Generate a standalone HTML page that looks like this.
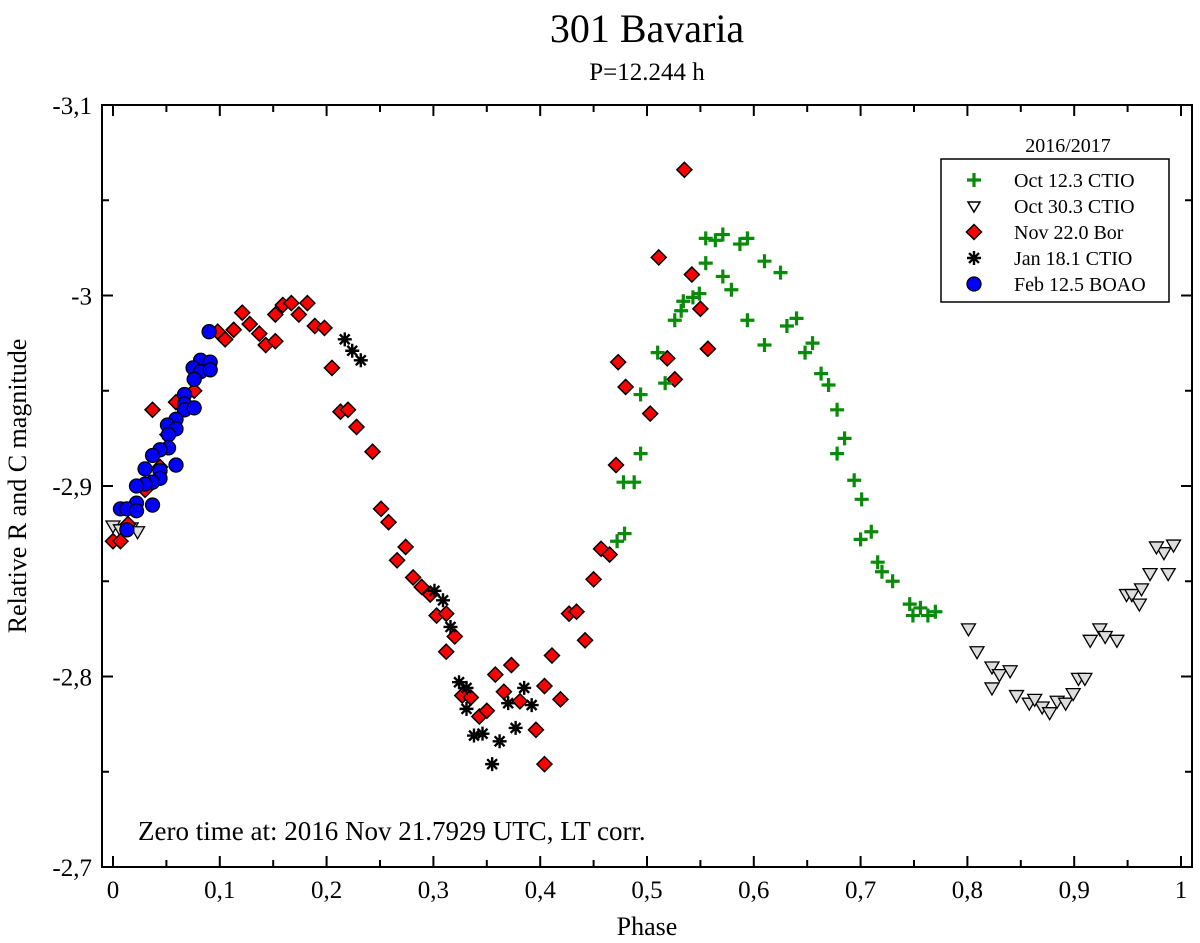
<!DOCTYPE html>
<html><head><meta charset="utf-8"><style>
html,body{margin:0;padding:0;background:#fff;}
svg{display:block;font-family:"Liberation Serif",serif;}
</style></head><body>
<svg id="chart" width="1200" height="943" viewBox="0 0 1200 943" xmlns="http://www.w3.org/2000/svg">
<text x="647" y="42" font-size="40" text-anchor="middle">301 Bavaria</text>
<text x="647" y="80" font-size="25" text-anchor="middle">P=12.244 h</text>
<rect x="102" y="105" width="1090" height="762" fill="none" stroke="#000" stroke-width="2"/>
<g id="axes"></g>
<g id="marks"></g>
<text x="647" y="935" font-size="26" text-anchor="middle">Phase</text>
<text x="26" y="486" font-size="26" text-anchor="middle" transform="rotate(-90 26 486)">Relative R and C magnitude</text>
<text x="138" y="840" font-size="27">Zero time at: 2016 Nov 21.7929 UTC, LT corr.</text>
<text x="1068" y="152" font-size="20" text-anchor="middle">2016/2017</text>
<g>
<rect x="941" y="159" width="228" height="143" fill="#fff" stroke="#000" stroke-width="1.5"/>
<g id="legend-entries"></g>
</g>
</svg>
<script>
const xTicks=[0,0.1,0.2,0.3,0.4,0.5,0.6,0.7,0.8,0.9,1];
const xTickLabels=["0","0,1","0,2","0,3","0,4","0,5","0,6","0,7","0,8","0,9","1"];
const yTicks=[-3.1,-3.0,-2.9,-2.8,-2.7];
const yTickLabels=["-3,1","-3","-2,9","-2,8","-2,7"];
const seriesNames=["Oct 12.3 CTIO","Oct 30.3 CTIO","Nov 22.0 Bor","Jan 18.1 CTIO","Feb 12.5 BOAO"];
const octPhase=[0.555,0.564,0.571,0.587,0.594,0.555,0.571,0.579,0.610,0.625,0.594,0.610,0.631,0.640,0.648,0.655,0.663,0.670,0.678,0.685,0.678,0.694,0.701,0.700,0.710,0.716,0.720,0.730,0.746,0.756,0.749,0.763,0.770,0.526,0.532,0.534,0.543,0.549,0.510,0.517,0.494,0.494,0.478,0.488,0.479,0.472];
const octMag=[-3.030,-3.029,-3.032,-3.027,-3.030,-3.017,-3.010,-3.003,-3.018,-3.012,-2.987,-2.974,-2.984,-2.988,-2.970,-2.975,-2.959,-2.953,-2.940,-2.925,-2.917,-2.903,-2.893,-2.872,-2.876,-2.860,-2.855,-2.850,-2.838,-2.836,-2.832,-2.832,-2.834,-2.987,-2.992,-2.997,-2.999,-3.001,-2.970,-2.954,-2.948,-2.917,-2.902,-2.902,-2.875,-2.871];
const oct30Phase=[0.000,0.007,0.017,0.023,0.801,0.809,0.823,0.830,0.823,0.840,0.846,0.858,0.870,0.863,0.877,0.884,0.892,0.899,0.904,0.910,0.915,0.924,0.929,0.940,0.949,0.954,0.961,0.963,0.971,0.984,0.988,0.977,0.993];
const oct30Mag=[-2.879,-2.877,-2.878,-2.876,-2.825,-2.813,-2.805,-2.801,-2.794,-2.803,-2.790,-2.786,-2.784,-2.788,-2.781,-2.787,-2.786,-2.791,-2.799,-2.799,-2.819,-2.825,-2.821,-2.819,-2.843,-2.843,-2.838,-2.846,-2.854,-2.865,-2.854,-2.868,-2.869];
const novPhase=[0.000,0.007,0.014,0.037,0.059,0.076,0.051,0.044,0.030,0.098,0.105,0.113,0.121,0.128,0.137,0.143,0.152,0.152,0.159,0.167,0.174,0.182,0.189,0.198,0.205,0.213,0.220,0.228,0.243,0.251,0.258,0.274,0.266,0.281,0.289,0.297,0.303,0.312,0.320,0.312,0.358,0.373,0.366,0.381,0.404,0.419,0.327,0.335,0.343,0.350,0.396,0.404,0.411,0.442,0.427,0.434,0.450,0.457,0.465,0.471,0.535,0.511,0.542,0.550,0.557,0.473,0.519,0.526,0.480,0.503];
const novMag=[-2.871,-2.871,-2.880,-2.940,-2.944,-2.950,-2.927,-2.910,-2.898,-2.981,-2.977,-2.982,-2.991,-2.985,-2.980,-2.974,-2.976,-2.990,-2.995,-2.996,-2.990,-2.996,-2.984,-2.983,-2.962,-2.939,-2.940,-2.931,-2.918,-2.888,-2.881,-2.868,-2.861,-2.852,-2.847,-2.843,-2.832,-2.833,-2.821,-2.813,-2.801,-2.806,-2.792,-2.787,-2.795,-2.788,-2.790,-2.789,-2.779,-2.782,-2.772,-2.754,-2.811,-2.819,-2.833,-2.834,-2.851,-2.867,-2.864,-2.911,-3.066,-3.020,-3.011,-2.993,-2.972,-2.965,-2.967,-2.956,-2.952,-2.938];
const janPhase=[0.217,0.224,0.232,0.301,0.309,0.316,0.324,0.331,0.331,0.338,0.346,0.362,0.355,0.370,0.385,0.392,0.377];
const janMag=[-2.977,-2.971,-2.966,-2.845,-2.840,-2.826,-2.797,-2.794,-2.783,-2.769,-2.770,-2.766,-2.754,-2.786,-2.794,-2.785,-2.773];
const febPhase=[0.090,0.082,0.091,0.075,0.082,0.091,0.076,0.067,0.067,0.067,0.076,0.059,0.051,0.059,0.052,0.052,0.044,0.037,0.059,0.030,0.044,0.044,0.037,0.030,0.022,0.022,0.037,0.007,0.013,0.022,0.013];
const febMag=[-2.981,-2.966,-2.965,-2.962,-2.960,-2.961,-2.956,-2.948,-2.943,-2.940,-2.941,-2.935,-2.932,-2.930,-2.927,-2.920,-2.919,-2.916,-2.911,-2.909,-2.908,-2.904,-2.902,-2.901,-2.900,-2.891,-2.890,-2.888,-2.888,-2.887,-2.877];

const NS="http://www.w3.org/2000/svg";
const X0=102,X1=1192,Y0=105,Y1=867;
function sx(p){return 113+p*1068;}
function sy(m){return Y0+(m+3.1)/0.4*(Y1-Y0);}
function mk(tag,attrs,parent){const e=document.createElementNS(NS,tag);for(const k in attrs)e.setAttribute(k,attrs[k]);parent.appendChild(e);return e;}
const axes=document.getElementById('axes');
const marks=document.getElementById('marks');
// x ticks
for(let i=0;i<xTicks.length;i++){
  const x=sx(xTicks[i]);
  const t=mk('path',{d:`M${x},${Y1}V${Y1-11}M${x},${Y0}V${Y0+11}`,stroke:'#000','stroke-width':2},axes);
  
  
  const l=mk('text',{x:x,y:898,'font-size':25,'text-anchor':'middle'},axes);
  l.textContent=xTickLabels[i];
  
  
  if(i<xTicks.length-1){const xm=sx(xTicks[i]+0.05);
    const m=mk('path',{d:`M${xm},${Y1}V${Y1-7}M${xm},${Y0}V${Y0+7}`,stroke:'#000','stroke-width':2},axes);
    
    }
}
for(let i=0;i<yTicks.length;i++){
  const y=sy(yTicks[i]);
  const t=mk('path',{d:`M${X0},${y}H${X0+11}M${X1},${y}H${X1-11}`,stroke:'#000','stroke-width':2},axes);
  
  
  const l=mk('text',{x:92,y:y+9,'font-size':25,'text-anchor':'end'},axes);
  l.textContent=yTickLabels[i];
  
  
  if(i<yTicks.length-1){const ym=sy(yTicks[i]+0.05);
    const m=mk('path',{d:`M${X0},${ym}H${X0+7}M${X1},${ym}H${X1-7}`,stroke:'#000','stroke-width':2},axes);
    
    }
}
function plus(g,x,y){return mk('path',{d:`M${x-7},${y}H${x+7}M${x},${y-7}V${y+7}`,stroke:'#0a8a0a','stroke-width':3.2},g);}
function tri(g,x,y){return mk('path',{d:`M${x-7},${y-5}L${x+7},${y-5}L${x},${y+7}Z`,fill:'#ddd',stroke:'#000','stroke-width':1.3},g);}
function dia(g,x,y){return mk('path',{d:`M${x},${y-7.5}L${x+7.5},${y}L${x},${y+7.5}L${x-7.5},${y}Z`,fill:'#f00',stroke:'#000','stroke-width':1.5},g);}
function star(g,x,y){let d='';for(let k=0;k<4;k++){const a=k*Math.PI/4;const dx=7*Math.cos(a),dy=7*Math.sin(a);d+=`M${x-dx},${y-dy}L${x+dx},${y+dy}`;}return mk('path',{d:d,stroke:'#000','stroke-width':2.4},g);}
function circ(g,x,y){return mk('circle',{cx:x,cy:y,r:7,fill:'#00f',stroke:'#000','stroke-width':1.3},g);}
function drawSeries(name,ps,ms,fn){
  const g=mk('g',{},marks);
  
  
  for(let i=0;i<ps.length;i++){
    const e=fn(g,sx(ps[i]),sy(ms[i]));
    
    
  }
}
drawSeries('oct30-series',oct30Phase,oct30Mag,tri);
drawSeries('nov-series',novPhase,novMag,dia);
drawSeries('jan-series',janPhase,janMag,star);
drawSeries('oct12-series',octPhase,octMag,plus);
drawSeries('feb-series',febPhase,febMag,circ);
const lg=document.getElementById('legend-entries');
const fns=[plus,tri,dia,star,circ];
for(let i=0;i<seriesNames.length;i++){
  const y=180+i*26;
  const e=mk('g',{},lg);
  
  
  const f=fns[i];
  if(f===tri){mk('path',{d:`M${974-6},${y-4}L${974+6},${y-4}L${974},${y+6}Z`,fill:'#fff',stroke:'#000','stroke-width':1.5},e);}
  else f(e,974,y);
  const t=mk('text',{x:1014,y:y+7,'font-size':20},e);
  t.textContent=seriesNames[i];
}
</script>
</body></html>
